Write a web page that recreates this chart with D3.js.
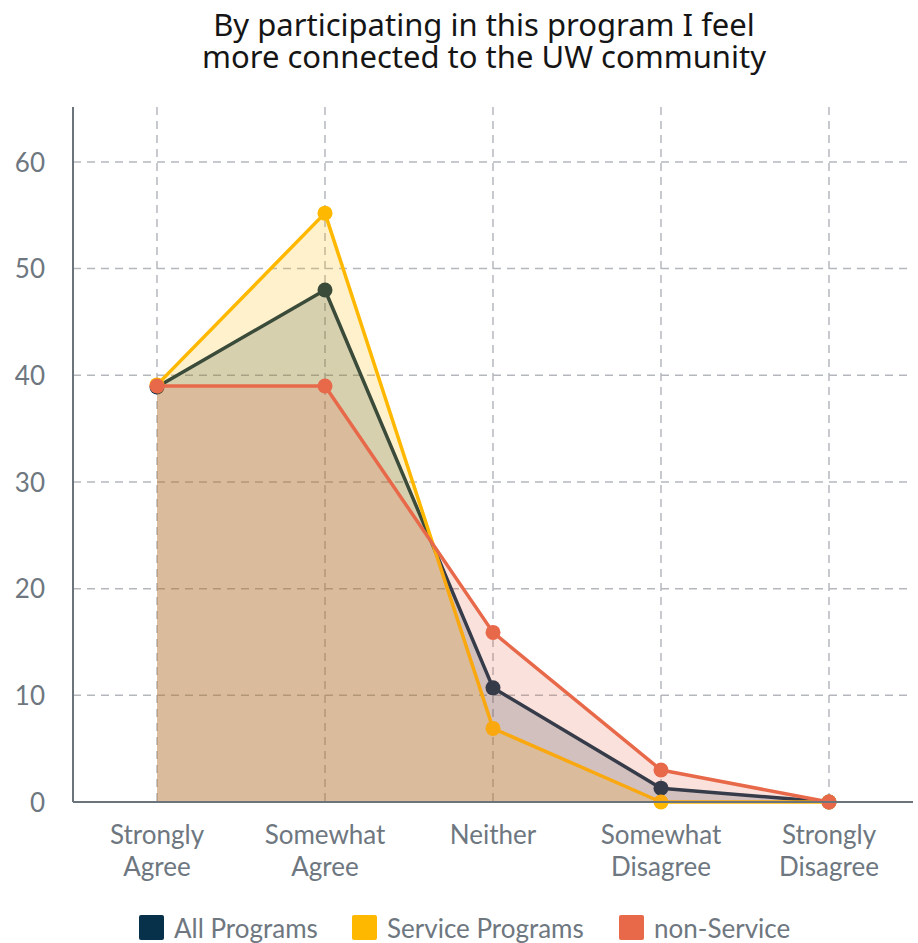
<!DOCTYPE html>
<html><head><meta charset="utf-8">
<script src="https://cdn.jsdelivr.net/npm/d3@7"></script>
<style>body{margin:0;background:#fff}svg{display:block}</style>
</head><body>
<svg id="c" width="918" height="943"></svg>
<script>
const categories = ["Strongly Agree","Somewhat Agree","Neither","Somewhat Disagree","Strongly Disagree"];
const categoryLines = [["Strongly","Agree"],["Somewhat","Agree"],["Neither"],["Somewhat","Disagree"],["Strongly","Disagree"]];
const allPrograms = [38.9, 48.0, 10.7, 1.3, 0];
const servicePrograms = [39.1, 55.2, 6.9, 0, 0];
const nonService = [39.0, 39.0, 15.9, 3.0, 0];
const seriesNames = ["All Programs","Service Programs","non-Service"];
const yTicks = [0,10,20,30,40,50,60];
const titleLines = ["By participating in this program I feel","more connected to the UW community"];

const series = [
  {name: seriesNames[0], values: allPrograms, color: "#0a3049"},
  {name: seriesNames[1], values: servicePrograms, color: "#ffb800"},
  {name: seriesNames[2], values: nonService, color: "#e8694a"}
];

const svg = d3.select("#c");
const mLeft = 73, mRight = 913, mTop = 107, mBottom = 802;
const x = d3.scaleBand().domain(categories).range([mLeft, mRight]);
const cx = c => x(c) + x.bandwidth()/2;
const y = d3.scaleLinear().domain([0, 65.15]).range([mBottom, mTop]);
const labelFont = "Lato, sans-serif", labelColor = "#6e7780", labelSize = "26px";

// title (single text element, two lines)
const title = svg.append("text").attr("text-anchor","middle")
  .style("font-family","'Noto Sans', sans-serif").style("font-size","31px").style("fill","#151515");
titleLines.forEach((t,i)=>title.append("tspan").attr("x",484).attr("y",36 + i*32).text(t));

// gridlines
const grid = svg.append("g");
grid.selectAll("line.h").data(yTicks.filter(t=>t>0)).join("line")
  .attr("x1", mLeft).attr("x2", mRight).attr("y1", d=>y(d)).attr("y2", d=>y(d))
  .attr("stroke","#b4b8bd").attr("stroke-width",1.5).attr("stroke-dasharray","8,6");
grid.selectAll("line.v").data(categories).join("line")
  .attr("x1", d=>cx(d)).attr("x2", d=>cx(d)).attr("y1", mTop).attr("y2", mBottom)
  .attr("stroke","#b4b8bd").attr("stroke-width",1.5).attr("stroke-dasharray","8,6");

// series
const area = d3.area().x((d,i)=>cx(categories[i])).y0(y(0)).y1(d=>y(d));
const line = d3.line().x((d,i)=>cx(categories[i])).y(d=>y(d));
series.forEach(s=>{
  const g = svg.append("g");
  g.append("path").attr("d", area(s.values)).attr("fill", s.color).attr("fill-opacity",0.2);
  g.append("path").attr("d", line(s.values)).attr("fill","none").attr("stroke", s.color).attr("stroke-width",3.5).attr("stroke-linejoin","round");
  g.selectAll("circle").data(s.values).join("circle")
    .attr("cx",(d,i)=>cx(categories[i])).attr("cy", d=>y(d)).attr("r",7.5).attr("fill", s.color);
});

// axes
const yAxis = d3.axisLeft(y).tickValues(yTicks).tickSize(0).tickPadding(28);
const ya = svg.append("g").attr("transform",`translate(${mLeft},0)`).call(yAxis);
ya.select(".domain").attr("stroke","#6b737b").attr("stroke-width",2).attr("d",`M0,${mTop}V${mBottom}`);
ya.selectAll("text").style("font-family",labelFont).style("font-size",labelSize).style("fill",labelColor).attr("dy","0.35em");

const xAxis = d3.axisBottom(x).tickSize(0).tickFormat("");
const xa = svg.append("g").attr("transform",`translate(0,${mBottom})`).call(xAxis);
xa.select(".domain").attr("stroke","#6b737b").attr("stroke-width",2).attr("d",`M${mLeft},0H${mRight}`);
xa.selectAll(".tick").each(function(d,i){
  const t = d3.select(this).append("text").attr("text-anchor","middle")
    .style("font-family",labelFont).style("font-size",labelSize).style("fill",labelColor);
  categoryLines[i].forEach((ln,j)=>t.append("tspan").attr("x",0).attr("y",42 + j*32).text(ln));
});

// legend
const legendX = [139, 352, 619];
const lg = svg.append("g");
series.forEach((s,i)=>{
  lg.append("rect").attr("x",legendX[i]).attr("y",915).attr("width",25).attr("height",25).attr("rx",2).attr("fill", i === 0 ? "#07304a" : s.color);
  lg.append("text").attr("x",legendX[i]+35).attr("y",938)
    .style("font-family",labelFont).style("font-size",labelSize).style("fill",labelColor).text(s.name);
});
</script>
</body></html>
